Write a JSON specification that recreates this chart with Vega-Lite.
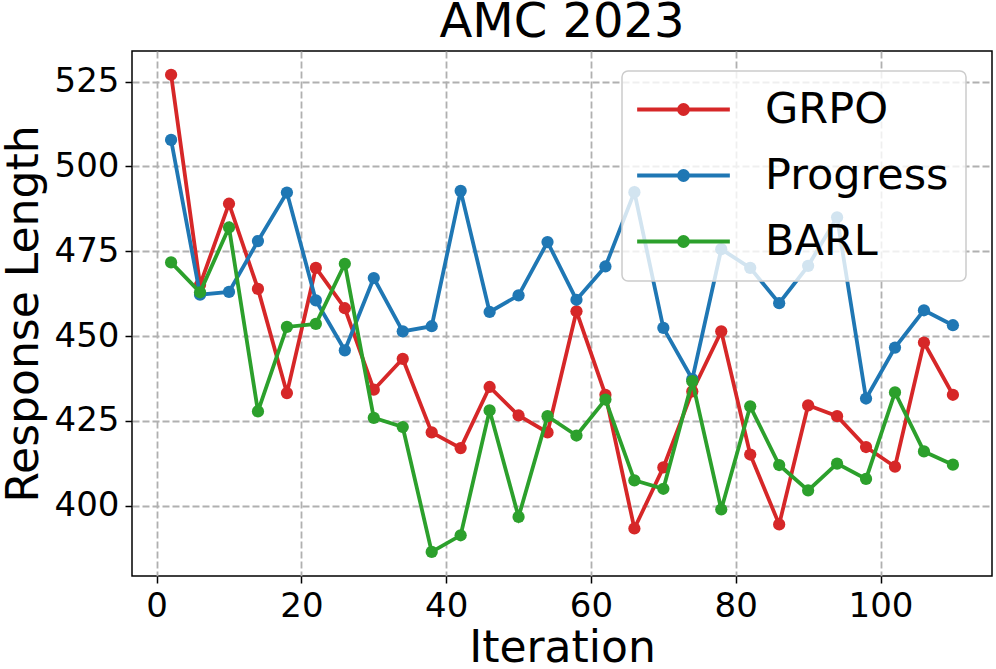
{
  "$schema": "https://vega.github.io/schema/vega-lite/v6.json",
  "width": 860,
  "height": 525,
  "autosize": {"type": "none"},
  "padding": {"left": 132, "top": 51, "right": 4, "bottom": 93},
  "background": "white",
  "title": {"text": "AMC 2023", "fontSize": 48, "fontWeight": "normal", "color": "black", "font": "DejaVu Sans", "anchor": "middle", "offset": 4},
  "config": {
    "font": "DejaVu Sans",
    "view": {"stroke": "black", "strokeWidth": 1.5},
    "legend": {"strokeWidth": 1.5},
    "axis": {
      "grid": true, "gridDash": [7, 3], "gridColor": "#b0b0b0", "gridWidth": 1.8,
      "domain": false, "ticks": true, "tickColor": "black", "tickSize": 7, "tickWidth": 1.5,
      "labelFontSize": 34, "labelColor": "black", "labelPadding": 6, "labelFont": "DejaVu Sans",
      "titleFontSize": 44, "titleFontWeight": "normal", "titleColor": "black", "titleFont": "DejaVu Sans",
      "labelFlush": false, "labelOverlap": false
    }
  },
  "data": {"values": [
    {"iter": 2, "method": "GRPO", "len": 527.0}, {"iter": 6, "method": "GRPO", "len": 465.1}, {"iter": 10, "method": "GRPO", "len": 489.0}, {"iter": 14, "method": "GRPO", "len": 463.9},
    {"iter": 18, "method": "GRPO", "len": 433.2}, {"iter": 22, "method": "GRPO", "len": 470.1}, {"iter": 26, "method": "GRPO", "len": 458.2}, {"iter": 30, "method": "GRPO", "len": 434.2},
    {"iter": 34, "method": "GRPO", "len": 443.3}, {"iter": 38, "method": "GRPO", "len": 421.6}, {"iter": 42, "method": "GRPO", "len": 417.0}, {"iter": 46, "method": "GRPO", "len": 435.0},
    {"iter": 50, "method": "GRPO", "len": 426.6}, {"iter": 54, "method": "GRPO", "len": 421.6}, {"iter": 58, "method": "GRPO", "len": 457.3}, {"iter": 62, "method": "GRPO", "len": 432.7},
    {"iter": 66, "method": "GRPO", "len": 393.3}, {"iter": 70, "method": "GRPO", "len": 411.3}, {"iter": 74, "method": "GRPO", "len": 433.7}, {"iter": 78, "method": "GRPO", "len": 451.4},
    {"iter": 82, "method": "GRPO", "len": 415.1}, {"iter": 86, "method": "GRPO", "len": 394.5}, {"iter": 90, "method": "GRPO", "len": 429.6}, {"iter": 94, "method": "GRPO", "len": 426.4},
    {"iter": 98, "method": "GRPO", "len": 417.3}, {"iter": 102, "method": "GRPO", "len": 411.5}, {"iter": 106, "method": "GRPO", "len": 448.1}, {"iter": 110, "method": "GRPO", "len": 432.7},
    {"iter": 2, "method": "Progress", "len": 507.8}, {"iter": 6, "method": "Progress", "len": 462.2}, {"iter": 10, "method": "Progress", "len": 463.0}, {"iter": 14, "method": "Progress", "len": 478.0},
    {"iter": 18, "method": "Progress", "len": 492.3}, {"iter": 22, "method": "Progress", "len": 460.5}, {"iter": 26, "method": "Progress", "len": 445.8}, {"iter": 30, "method": "Progress", "len": 467.1},
    {"iter": 34, "method": "Progress", "len": 451.4}, {"iter": 38, "method": "Progress", "len": 452.9}, {"iter": 42, "method": "Progress", "len": 492.8}, {"iter": 46, "method": "Progress", "len": 457.1},
    {"iter": 50, "method": "Progress", "len": 462.0}, {"iter": 54, "method": "Progress", "len": 477.7}, {"iter": 58, "method": "Progress", "len": 460.7}, {"iter": 62, "method": "Progress", "len": 470.5},
    {"iter": 66, "method": "Progress", "len": 492.4}, {"iter": 70, "method": "Progress", "len": 452.4}, {"iter": 74, "method": "Progress", "len": 437.3}, {"iter": 78, "method": "Progress", "len": 475.6},
    {"iter": 82, "method": "Progress", "len": 470.1}, {"iter": 86, "method": "Progress", "len": 459.7}, {"iter": 90, "method": "Progress", "len": 470.7}, {"iter": 94, "method": "Progress", "len": 485.0},
    {"iter": 98, "method": "Progress", "len": 431.6}, {"iter": 102, "method": "Progress", "len": 446.6}, {"iter": 106, "method": "Progress", "len": 457.6}, {"iter": 110, "method": "Progress", "len": 453.2},
    {"iter": 2, "method": "BARL", "len": 471.7}, {"iter": 6, "method": "BARL", "len": 462.9}, {"iter": 10, "method": "BARL", "len": 482.0}, {"iter": 14, "method": "BARL", "len": 427.8},
    {"iter": 18, "method": "BARL", "len": 452.7}, {"iter": 22, "method": "BARL", "len": 453.6}, {"iter": 26, "method": "BARL", "len": 471.3}, {"iter": 30, "method": "BARL", "len": 425.9},
    {"iter": 34, "method": "BARL", "len": 423.2}, {"iter": 38, "method": "BARL", "len": 386.4}, {"iter": 42, "method": "BARL", "len": 391.3}, {"iter": 46, "method": "BARL", "len": 428.1},
    {"iter": 50, "method": "BARL", "len": 396.7}, {"iter": 54, "method": "BARL", "len": 426.4}, {"iter": 58, "method": "BARL", "len": 420.7}, {"iter": 62, "method": "BARL", "len": 431.3},
    {"iter": 66, "method": "BARL", "len": 407.5}, {"iter": 70, "method": "BARL", "len": 405.0}, {"iter": 74, "method": "BARL", "len": 436.7}, {"iter": 78, "method": "BARL", "len": 398.9},
    {"iter": 82, "method": "BARL", "len": 429.3}, {"iter": 86, "method": "BARL", "len": 412.0}, {"iter": 90, "method": "BARL", "len": 404.5}, {"iter": 94, "method": "BARL", "len": 412.4},
    {"iter": 98, "method": "BARL", "len": 407.9}, {"iter": 102, "method": "BARL", "len": 433.4}, {"iter": 106, "method": "BARL", "len": 416.0}, {"iter": 110, "method": "BARL", "len": 412.1}
  ]},
  "encoding": {
    "x": {"field": "iter", "type": "quantitative",
      "scale": {"domain": [-3.4, 115.4], "nice": false, "zero": false},
      "axis": {"values": [0, 20, 40, 60, 80, 100], "title": "Iteration", "titlePadding": 3}},
    "y": {"field": "len", "type": "quantitative",
      "scale": {"domain": [379.3, 534.0], "nice": false, "zero": false},
      "axis": {"values": [400, 425, 450, 475, 500, 525], "title": "Response Length", "titlePadding": 8}},
    "color": {"field": "method", "type": "nominal",
      "scale": {"domain": ["GRPO", "Progress", "BARL"], "range": ["#d62728", "#1f77b4", "#2ca02c"]},
      "legend": {
        "title": null, "orient": "none", "legendX": 490, "legendY": 20,
        "padding": 17, "fillColor": "rgba(255,255,255,0.8)", "strokeColor": "#cccccc", "cornerRadius": 6,
        "labelFontSize": 43, "labelColor": "black", "labelFont": "DejaVu Sans", "labelLimit": 400,
        "labelOffset": 60, "symbolOffset": 23, "rowPadding": 22,
        "symbolType": "M-4.635,0L4.635,0M0.45,0A0.45,0.45,0,1,1,-0.45,0A0.45,0.45,0,1,1,0.45,0Z",
        "symbolSize": 400, "symbolStrokeWidth": 3.8,
        "encode": {"symbols": {"update": {"fill": {"scale": "color", "field": "value"}, "stroke": {"scale": "color", "field": "value"}, "opacity": {"value": 1}}}}
      }}
  },
  "layer": [
    {"transform": [{"filter": "datum.method === 'GRPO'"}], "mark": {"type": "line", "strokeWidth": 3.8, "point": {"filled": true, "size": 150, "opacity": 1}}},
    {"transform": [{"filter": "datum.method === 'Progress'"}], "mark": {"type": "line", "strokeWidth": 3.8, "point": {"filled": true, "size": 150, "opacity": 1}}},
    {"transform": [{"filter": "datum.method === 'BARL'"}], "mark": {"type": "line", "strokeWidth": 3.8, "point": {"filled": true, "size": 150, "opacity": 1}}}
  ]
}
